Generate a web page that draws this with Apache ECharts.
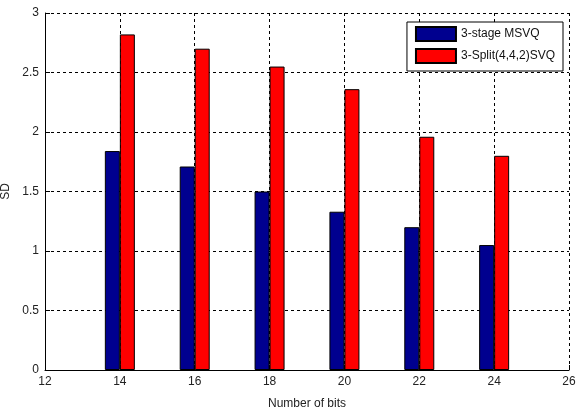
<!DOCTYPE html>
<html>
<head>
<meta charset="utf-8">
<script src="https://cdn.jsdelivr.net/npm/echarts@6/dist/echarts.min.js"></script>
<style>html,body{margin:0;padding:0;background:#fff}#c{width:577px;height:416px}</style>
</head>
<body>
<div id="c"></div>
<script>
var bits = [14, 16, 18, 20, 22, 24];
var msvq = [1.84, 1.71, 1.50, 1.33, 1.20, 1.05];
var ssvq = [2.82, 2.70, 2.55, 2.36, 1.96, 1.80];
var seriesNames = ['3-stage MSVQ', '3-Split(4,4,2)SVQ'];

function pairs(xs, ys) { return xs.map(function (x, i) { return [x, ys[i]]; }); }

var font = 'Liberation Sans, Arial, sans-serif';
var chart = echarts.init(document.getElementById('c'), null, {renderer: 'canvas'});
chart.setOption({
  animation: false,
  backgroundColor: '#fff',
  textStyle: {fontFamily: font},
  grid: {left: 45, right: 8, top: 13, bottom: 46, containLabel: false, outerBoundsMode: 'none'},
  legend: {
    orient: 'vertical', right: 14, top: 22,
    itemWidth: 40, itemHeight: 14, itemGap: 6,
    padding: [4, 8, 7, 8],
    icon: 'rect',
    borderColor: '#000', borderWidth: 1, backgroundColor: '#fff',
    textStyle: {fontSize: 12, color: '#111', fontFamily: font},
    data: seriesNames
  },
  xAxis: {
    type: 'value', min: 12, max: 26, interval: 2,
    name: 'Number of bits', nameLocation: 'middle', nameGap: 28,
    nameTextStyle: {fontSize: 12, color: '#222', fontFamily: font},
    axisLine: {show: true, onZero: false, lineStyle: {color: '#000', width: 1}},
    axisTick: {show: true, inside: true, length: 5, lineStyle: {color: '#000'}},
    axisLabel: {fontSize: 12, color: '#222', margin: 6, fontFamily: font},
    splitLine: {show: true, lineStyle: {color: '#000', type: [3, 3], width: 1}}
  },
  yAxis: {
    type: 'value', min: 0, max: 3, interval: 0.5,
    name: 'SD', nameLocation: 'middle', nameGap: 33,
    nameTextStyle: {fontSize: 12, color: '#222', fontFamily: font},
    axisLine: {show: true, lineStyle: {color: '#000', width: 1}},
    axisTick: {show: true, inside: true, length: 5, lineStyle: {color: '#000'}},
    axisLabel: {fontSize: 12, color: '#222', margin: 6, fontFamily: font},
    splitLine: {show: true, lineStyle: {color: '#000', type: [3, 3], width: 1}}
  },
  series: [
    {
      name: seriesNames[0], type: 'bar', data: pairs(bits, msvq),
      barWidth: 15, barGap: '0%',
      itemStyle: {color: '#00008f', borderColor: '#000', borderWidth: 1},
      emphasis: {disabled: true}
    },
    {
      name: seriesNames[1], type: 'bar', data: pairs(bits, ssvq),
      barWidth: 15, barGap: '0%',
      itemStyle: {color: '#ff0000', borderColor: '#000', borderWidth: 1},
      emphasis: {disabled: true}
    }
  ]
});
</script>
</body>
</html>
